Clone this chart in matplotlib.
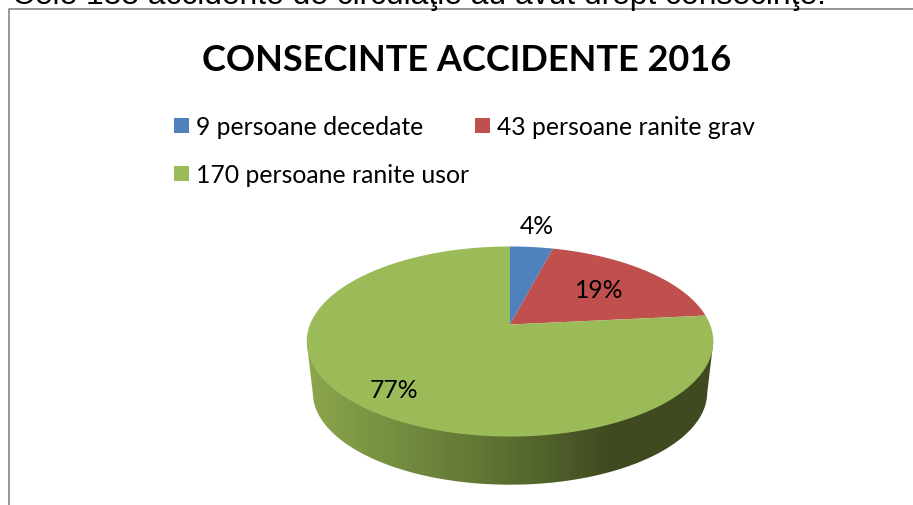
import numpy as np
import matplotlib
matplotlib.use('Agg')
import matplotlib.pyplot as plt
from matplotlib.colors import LinearSegmentedColormap
from matplotlib.patches import Polygon, Rectangle

HEADING = 'Cele 188 accidente de circulaţie au avut drept consecinţe:'
TITLE = 'CONSECINTE ACCIDENTE 2016'
LABELS = ['9 persoane decedate', '43 persoane ranite grav', '170 persoane ranite usor']
VALUES = [9, 43, 170]
COLORS = ['#4F81BD', '#C0504D', '#9BBB59']
SIDE_STOPS = ['#8CA64C', '#728A3F', '#5A6E30', '#3F4A20', '#3F4A20']

W, H = 913, 506

# perspective of the tilted pie, in pixels
CX, CY = 510, 325.5
AX_X, AX_Y, TILT = 200, 92, 0.179
DEPTH_Y, DEPTH_SCALE = 51.5, 0.97


def project(t, r=1.0, scale=1.0, dy=0.0):
    # t is clockwise from 12 o'clock
    x = r * np.sin(t)
    y = r * np.cos(t)
    d = 1 + TILT * y
    return CX + scale * AX_X * x / d, CY + dy - scale * AX_Y * y / d


fig = plt.figure(figsize=(W / 100, H / 100), dpi=100)
ax = fig.add_axes([0, 0, 1, 1])
ax.set_xlim(0, W)
ax.set_ylim(H, 0)
ax.axis('off')

# frame
ax.plot([9, 9, W], [H, 10, 10], color='#868686', lw=1.2, zorder=1)

ax.text(12, 4, HEADING, family='Liberation Sans', fontsize=22.9, ha='left', va='baseline', zorder=3)
ax.text(466.5, 60, TITLE, family='Lato', weight='bold', fontsize=26, ha='center', va='center')

# legend
ax.add_patch(Rectangle((174, 119), 15, 15, color=COLORS[0], lw=0))
ax.add_patch(Rectangle((475, 119), 15, 15, color=COLORS[1], lw=0))
ax.add_patch(Rectangle((174, 167), 15, 15, color=COLORS[2], lw=0))
ax.text(196, 127, LABELS[0], family='Lato', fontsize=17.8, va='center')
ax.text(497, 127, LABELS[1], family='Lato', fontsize=17.8, va='center')
ax.text(196, 175, LABELS[2], family='Lato', fontsize=17.8, va='center')

# side of the pie
t = np.linspace(0, 2 * np.pi, 721)
tx, ty = project(t)
bx, by = project(t, scale=DEPTH_SCALE, dy=DEPTH_Y)
left = tx.argmin()
right = tx.argmax()
keep = (by > by[bx.argmin()]) | (by > by[bx.argmax()])
order = np.argsort(bx[keep])
side = np.vstack([
    [[tx[left], ty[left]]],
    np.column_stack([bx[keep][order], by[keep][order]]),
    [[tx[right], ty[right]]],
])
patch = Polygon(side, closed=True, fc='none', ec='none', zorder=2)
ax.add_patch(patch)
cmap = LinearSegmentedColormap.from_list('side', SIDE_STOPS)
im = ax.imshow(np.linspace(0, 1, 256).reshape(1, -1), cmap=cmap, aspect='auto',
               extent=[tx.min(), tx.max(), by.max() + 1, ty.min()], zorder=2)
im.set_clip_path(patch)
ax.set_xlim(0, W)
ax.set_ylim(H, 0)

# slices
frac = np.array(VALUES) / sum(VALUES)
edges = np.concatenate([[0], np.cumsum(frac)]) * 2 * np.pi
for i in range(len(VALUES)):
    tt = np.linspace(edges[i], edges[i + 1], 200)
    px, py = project(tt)
    pts = np.vstack([[[CX, CY]], np.column_stack([px, py])])
    ax.add_patch(Polygon(pts, closed=True, fc=COLORS[i], ec='none', zorder=3))

# percent labels
pct = [f'{round(f * 100)}%' for f in frac]
ax.text(537, 227, pct[0], family='Lato', fontsize=17.8, ha='center', va='center', zorder=4)
ax.text(599, 291, pct[1], family='Lato', fontsize=17.8, ha='center', va='center', zorder=4)
ax.text(394, 391, pct[2], family='Lato', fontsize=17.8, ha='center', va='center', zorder=4)

fig.savefig('out.png', dpi=100)
